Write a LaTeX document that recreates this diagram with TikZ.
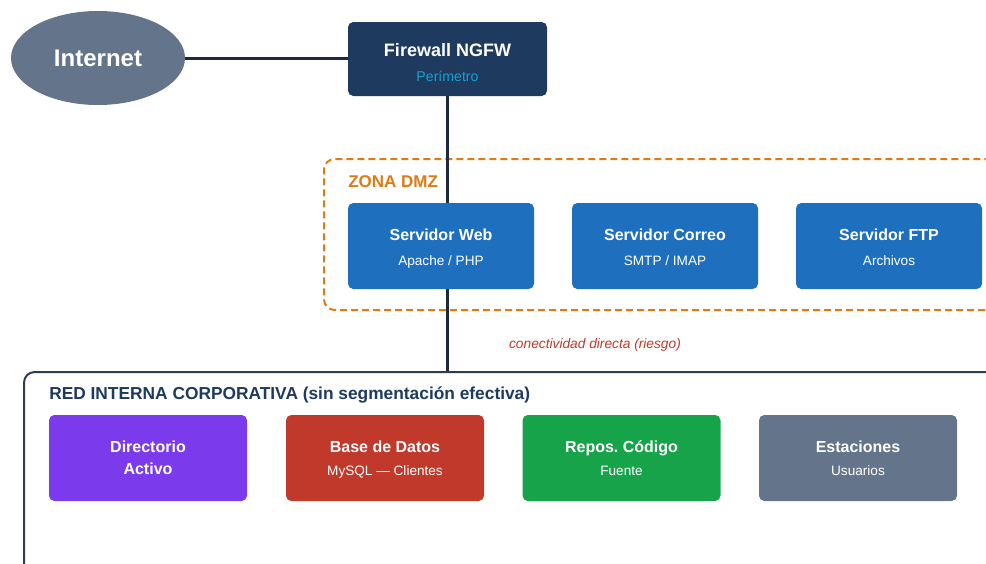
\documentclass[tikz,border=0pt]{standalone}
\usepackage{fontspec}
\setmainfont{Liberation Sans}
\usetikzlibrary{shapes.geometric}
\definecolor{linec}{HTML}{1E293B}
\definecolor{slate}{HTML}{64748B}
\definecolor{navy}{HTML}{1E3A5F}
\definecolor{cyanish}{HTML}{17A2D0}
\definecolor{dmzorange}{HTML}{E07B12}
\definecolor{srvblue}{HTML}{1F6FBF}
\definecolor{redrisk}{HTML}{C0392B}
\definecolor{redborder}{HTML}{2D3E50}
\definecolor{purp}{HTML}{7C3AED}
\definecolor{dbred}{HTML}{C0392B}
\definecolor{grn}{HTML}{16A34A}
\frenchspacing
\begin{document}
\begin{tikzpicture}[x=0.75pt,y=-0.75pt,
 conn/.style={draw=linec, line width=2.25pt},
 srv/.style={rectangle, rounded corners=4pt, fill=srvblue, minimum width=139.5pt, minimum height=64.5pt, inner sep=0pt},
 inb/.style={rectangle, rounded corners=4pt, minimum width=148.5pt, minimum height=64.5pt, inner sep=0pt},
 ttl/.style={anchor=base, inner sep=0pt, text=white, font=\fontsize{12pt}{14pt}\selectfont\bfseries},
 sub/.style={anchor=base, inner sep=0pt, text=white, font=\fontsize{10.2pt}{12pt}\selectfont},
 zonettl/.style={anchor=base west, inner sep=0pt, font=\fontsize{12.75pt}{15pt}\selectfont\bfseries},
]
\useasboundingbox (0,0) rectangle (986,564);
\clip (0,0) rectangle (986,564);
\fill[white] (0,0) rectangle (986,564);

% zones
\node[draw=dmzorange, dashed, dash pattern=on 5.25pt off 3pt, line width=1.5pt, rounded corners=8pt,
      minimum width=582.75pt, minimum height=113.25pt, anchor=north west, inner sep=0pt] (dmz) at (323,158) {};
\node[draw=redborder, line width=1.5pt, rounded corners=8pt,
      minimum width=807.75pt, minimum height=225pt, anchor=north west, inner sep=0pt] (red) at (23,371) {};
\node[zonettl, text=dmzorange] (dmzt) at (348,187) {ZONA DMZ};
\node[zonettl, text=navy, font=\fontsize{13pt}{15pt}\selectfont\bfseries] (redt) at (49,399) {RED INTERNA CORPORATIVA (sin segmentación efectiva)};

% internet and firewall
\node[ellipse, fill=slate, minimum width=130.5pt, minimum height=70.5pt, inner sep=0pt] (inet) at (98,58) {};
\node[anchor=base, inner sep=0pt, text=white, font=\fontsize{18pt}{20pt}\selectfont\bfseries] (inett) at (98,66.6) {Internet};
\node[rectangle, rounded corners=4pt, fill=navy, minimum width=149.25pt, minimum height=55.5pt, inner sep=0pt] (fw) at (447.5,59) {};
\node[anchor=base, inner sep=0pt, text=white, font=\fontsize{13.5pt}{16pt}\selectfont\bfseries] (fwt) at (447.5,56.4) {Firewall NGFW};
\node[sub, text=cyanish, font=\fontsize{10.6pt}{12pt}\selectfont] (fws) at (447.5,81.2) {Perímetro};

% DMZ servers
\node[srv] (web) at (441,246) {};
\node[srv] (mail) at (665,246) {};
\node[srv] (ftp) at (889,246) {};
\node[ttl] (webt) at (441,240.7) {Servidor Web};
\node[sub] (webs) at (441,265.2) {Apache / PHP};
\node[ttl] (mailt) at (665,240.7) {Servidor Correo};
\node[sub] (mails) at (665,265.2) {SMTP / IMAP};
\node[ttl] (ftpt) at (889,240.7) {Servidor FTP};
\node[sub] (ftps) at (889,265.2) {Archivos};

% internal nodes
\node[inb, fill=purp] (ad) at (148,458) {};
\node[inb, fill=dbred] (db) at (385,458) {};
\node[inb, fill=grn] (repo) at (621.5,458) {};
\node[inb, fill=slate] (ws) at (858,458) {};
\node[ttl] (adt) at (148,452.7) {Directorio};
\node[ttl] (adt2) at (148,474.7) {Activo};
\node[ttl] (dbt) at (385,452.7) {Base de Datos};
\node[sub] (dbs) at (385,475.2) {MySQL — Clientes};
\node[ttl] (repot) at (621.5,452.7) {Repos. Código};
\node[sub] (repos) at (621.5,475.2) {Fuente};
\node[ttl] (wst) at (858,452.7) {Estaciones};
\node[sub] (wss) at (858,475.2) {Usuarios};

% connectors
\draw[conn] (inet.east) -- (inet.east -| fw.west);
\draw[conn] (fw.south) -- (fw.south |- web.north);
\draw[conn] (fw.south |- web.south) -- (fw.south |- red.north);
\node[anchor=base, inner sep=0pt, text=redrisk, font=\fontsize{10.3pt}{12pt}\selectfont\itshape] (risk) at (595,348) {conectividad directa (riesgo)};
\end{tikzpicture}
\end{document}
